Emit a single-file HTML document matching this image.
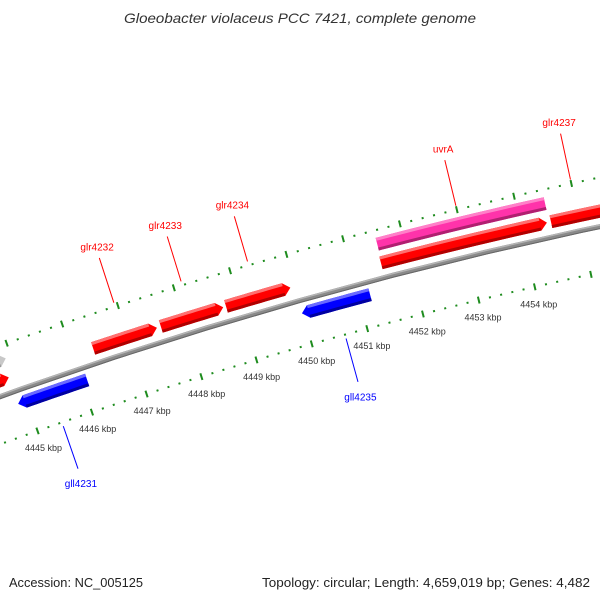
<!DOCTYPE html>
<html><head><meta charset="utf-8"><style>
body{margin:0;background:#fff;}
svg{display:block;font-family:"Liberation Sans",sans-serif;}
</style></head><body>
<svg id="map" width="600" height="600" viewBox="0 0 600 600">
<text x="124" y="23" textLength="352" lengthAdjust="spacingAndGlyphs" font-size="14" font-style="italic" fill="#333">Gloeobacter violaceus PCC 7421, complete genome</text>
<g id="layer"></g>
<text x="9" y="587" textLength="134" lengthAdjust="spacingAndGlyphs" font-size="13" fill="#222">Accession: NC_005125</text>
<text x="262" y="587" textLength="328" lengthAdjust="spacingAndGlyphs" font-size="13" fill="#222">Topology: circular; Length: 4,659,019 bp; Genes: 4,482</text>
</svg>
<script>
const geneNames  = ['gene-left-partial','gene-gray-partial','glr4232','glr4233','glr4234','glr-large','glr4237','uvrA','gll4231','gll4235'];
const geneStarts = [4440.0, 4440.0, 4446.37, 4447.59, 4448.76, 4451.52, 4454.52, 4451.54, 4444.84, 4449.98];
const geneEnds   = [4444.84, 4444.9, 4447.52, 4448.71, 4449.91, 4454.45, 4457.5, 4454.49, 4446.1, 4451.2];
const geneStrand = [1, 1, 1, 1, 1, 1, 1, 0, -1, -1];
const geneTrack  = ['f1','f2','f1','f1','f1','f1','f1','f2','r1','r1'];
const geneKind   = ['red','gray','red','red','red','red','red','pink','blue','blue'];
const labelTexts = ['glr4232','glr4233','glr4234','uvrA','glr4237','gll4231','gll4235'];
const labelKbp   = [4446.95, 4448.15, 4449.33, 4453.0, 4455.0, 4445.45, 4450.6];
const labelSide  = [1, 1, 1, 1, 1, -1, -1];
const tickStart = 4440, tickEnd = 4460;
const tickLabelMin = 4445, tickLabelMax = 4454;

const cx=1551, cy=4725;
const trackR={f1:4613,f2:4632,r1:4585};
const palette={red:['#ff0000','#ff7070','#b00000'],gray:['#c8c8c8','#e0e0e0','#999'],pink:['#ff33aa','#ff80c8','#b02070'],blue:['#0000ff','#6a6aff','#0000a0']};
const NS='http://www.w3.org/2000/svg';
const layer=document.getElementById('layer');
function pt(k,r){const p=(-15.07+(k-4451)*0.7242)*Math.PI/180;return [cx+r*Math.sin(p),cy-r*Math.cos(p)];}
function arcPts(a,b,r){const o=[];const n=12;for(let i=0;i<=n;i++){o.push(pt(a+(b-a)*i/n,r));}return o;}
function ps(arr){return arr.map(p=>p[0].toFixed(2)+','+p[1].toFixed(2)).join(' ');}
function mk(tag,attrs){const e=document.createElementNS(NS,tag);for(const k in attrs)e.setAttribute(k,attrs[k]);layer.appendChild(e);return e;}

let e=mk('polyline',{points:ps(arcPts(4440,4460,4598)),fill:'none',stroke:'#8a8a8a','stroke-width':5});


e=mk('polyline',{points:ps(arcPts(4440,4460,4599.6)),fill:'none',stroke:'#b5b5b5','stroke-width':1.5});


e=mk('polyline',{points:ps(arcPts(4440,4460,4596)),fill:'none',stroke:'#666','stroke-width':1});



[4553,4646].forEach((R,ri)=>{
  for(let i=0;i<=Math.round((tickEnd-tickStart)*5);i++){
    const k=tickStart+i*0.2;const major=(i%5===0);
    const a=pt(k,R-(major?3.5:1)),b=pt(k,R+(major?3.5:1));
    const t=mk('line',{x1:a[0],y1:a[1],x2:b[0],y2:b[1],stroke:'#1e8c1e','stroke-width':2});
    
    
    const kr=Math.round(k);
    if(major&&ri===0&&kr>=tickLabelMin&&kr<=tickLabelMax){
      const c=pt(k,4535);
      const tx=mk('text',{x:c[0].toFixed(1),y:(c[1]+3).toFixed(1),'text-anchor':'middle','font-size':9,fill:'#333'});
      tx.textContent=kr+' kbp';
      
      
    }
  }
});

for(let i=0;i<geneNames.length;i++){
  const rc=trackR[geneTrack[i]],w=13,r0=rc-w/2,r1=rc+w/2;
  const s=geneStarts[i],en=geneEnds[i],st=geneStrand[i],h=0.12;
  let poly;
  if(st===1){poly=[pt(s,r0),...arcPts(s,en-h,r1),pt(en,rc),...arcPts(en-h,s,r0)];}
  else if(st===-1){poly=[pt(en,r0),pt(en,r1),...arcPts(en,s+h,r1),pt(s,rc),...arcPts(s+h,en,r0)];}
  else{poly=[...arcPts(s,en,r1),...arcPts(en,s,r0)];}
  const col=palette[geneKind[i]];
  const g=mk('polygon',{points:ps(poly),fill:col[0]});
  
  
  const b0=st===-1?s+h:s, b1=st===1?en-h:en;
  const hl=mk('polyline',{points:ps(arcPts(b0,b1,r1-1.5)),fill:'none',stroke:col[1],'stroke-width':3});
  
  
  const sh=mk('polyline',{points:ps(arcPts(b0,b1,r0+1.5)),fill:'none',stroke:col[2],'stroke-width':3});
  
  
}

for(let i=0;i<labelTexts.length;i++){
  const k=labelKbp[i],side=labelSide[i];
  const col=side===1?'#ff0000':'#0000ff';
  const a=pt(k,side===1?4650:4549),b=pt(k,side===1?4697:4504);
  const l=mk('line',{x1:a[0],y1:a[1],x2:b[0],y2:b[1],stroke:col,'stroke-width':1});
  
  
  const c=pt(k,side===1?4704:4495);
  const t=mk('text',{x:c[0].toFixed(1),y:(side===1?c[1]-1:c[1]+10).toFixed(1),'text-anchor':'middle','font-size':10,fill:col});
  t.textContent=labelTexts[i];
  
  
}
</script>
</body></html>
